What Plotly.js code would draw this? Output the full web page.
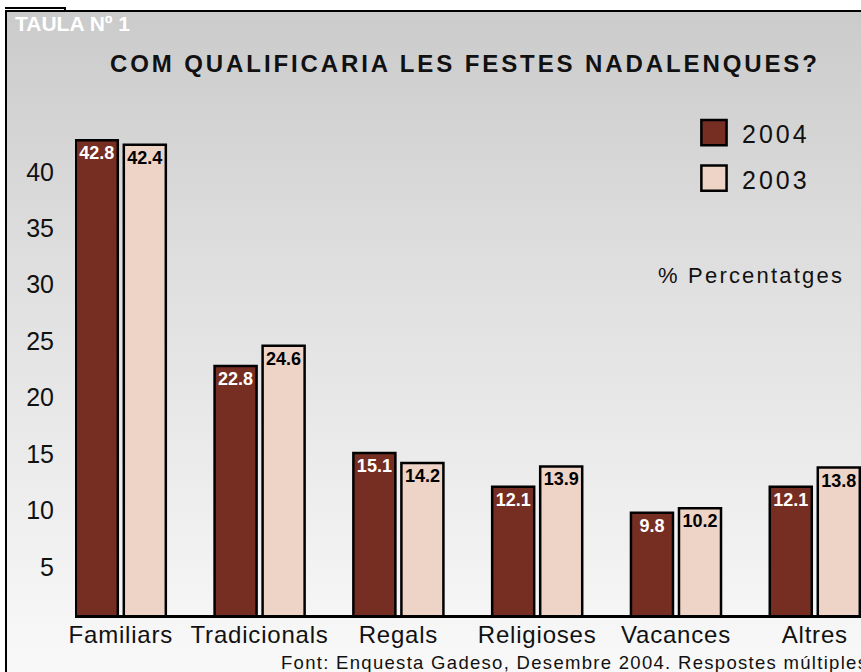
<!DOCTYPE html>
<html>
<head>
<meta charset="utf-8">
<script src="https://cdn.plot.ly/plotly-3.0.1.min.js"></script>
<style>
  html, body { margin: 0; padding: 0; background: #ffffff; overflow: hidden; }
  #frame { position: absolute; left: 5px; top: 10px; width: 900px; height: 700px;
           border-left: 2px solid #000; border-top: 2px solid #000;
           background: linear-gradient(to bottom, #cbcbcb 0%, #dedede 35%, #f8f8f8 92%); }
  #tab { position: absolute; left: 5px; top: 7px; width: 61px; height: 2px; background: #000; }
  #tabv { position: absolute; left: 64px; top: 7px; width: 2px; height: 4px; background: #000; }
  #chart { position: absolute; left: 0; top: 0; width: 861px; height: 672px; }
  .gtitle { letter-spacing: 2.9px; }
  .xtick text { letter-spacing: 0.8px; }
  .legendtext { letter-spacing: 3px; }
  .legendpoints path { transform: translate(20px, -1px) scale(2.1); stroke-width: 1.2px !important; }
</style>
</head>
<body>
<div id="frame"></div>
<div id="tab"></div>
<div id="tabv"></div>
<div id="chart"></div>
<script>
const categories = ["Familiars", "Tradicionals", "Regals", "Religioses", "Vacances", "Altres"];
const values2004 = [42.8, 22.8, 15.1, 12.1, 9.8, 12.1];
const values2003 = [42.4, 24.6, 14.2, 13.9, 10.2, 13.8];
const seriesNames = ["2004", "2003"];
const yTickValues = [5, 10, 15, 20, 25, 30, 35, 40];
const titleText = "COM QUALIFICARIA LES FESTES NADALENQUES?";
const tableLabel = "TAULA Nº 1";
const unitLabel = "% Percentatges";
const sourceText = "Font: Enquesta Gadeso, Desembre 2004. Respostes múltiples";

const FONT = "Liberation Sans, Arial, Helvetica, sans-serif";
const DARK = "#762e23";
const LIGHT = "#eed3c7";

function spaced(txt, px) {
  return '<span style="letter-spacing:' + px + 'px">' + txt + '</span>';
}

const traces = [
  {
    type: "bar", name: seriesNames[0], x: categories, y: values2004,
    legendgroup: "a",
    marker: { color: DARK, line: { color: "#000", width: 2.5 } },
    texttemplate: "%{y:.1f}", textposition: "inside", insidetextanchor: "end",
    constraintext: "none", textangle: 0,
    textfont: { family: FONT, size: 18, weight: "bold", color: "#ffffff" },
    hoverinfo: "x+y"
  },
  {
    type: "bar", name: seriesNames[1], x: categories, y: values2003,
    legendgroup: "b",
    marker: { color: LIGHT, line: { color: "#000", width: 2.5 } },
    texttemplate: "%{y:.1f}", textposition: "inside", insidetextanchor: "end",
    constraintext: "none", textangle: 0,
    textfont: { family: FONT, size: 18, weight: "bold", color: "#000000" },
    hoverinfo: "x+y"
  }
];

const layout = {
  width: 861, height: 672,
  margin: { l: 75, r: 0, t: 100, b: 57 },
  paper_bgcolor: "rgba(0,0,0,0)",
  plot_bgcolor: "rgba(0,0,0,0)",
  font: { family: FONT, color: "#111" },
  barmode: "group", bargap: 0.308, bargroupgap: 0.125,
  title: {
    text: titleText, xref: "container", yref: "container",
    x: 0.54, xanchor: "center", y: 0.905, yanchor: "middle",
    font: { family: FONT, size: 24, weight: "bold", color: "#111" }
  },
  xaxis: {
    type: "category", range: [-0.33, 5.333], fixedrange: true,
    showline: true, linecolor: "#000", linewidth: 2.5,
    ticks: "", showgrid: false, zeroline: false,
    tickfont: { family: FONT, size: 24, color: "#111" },
    ticklabelstandoff: -3
  },
  yaxis: {
    range: [0.74, 46.36], fixedrange: true,
    tickvals: yTickValues, ticktext: yTickValues.map(String),
    showline: false, showgrid: false, zeroline: false, ticks: "",
    tickfont: { family: FONT, size: 25, color: "#111" },
    ticklabelstandoff: 20
  },
  showlegend: true,
  legend: {
    x: 0.7875, xanchor: "left", y: 0.979, yanchor: "top",
    bgcolor: "rgba(0,0,0,0)", borderwidth: 0,
    font: { family: FONT, size: 25, color: "#111" },
    itemwidth: 38, tracegroupgap: 10, traceorder: "grouped"
  },
  annotations: [
    { text: tableLabel, xref: "paper", yref: "paper", x: -0.079, y: 1.1495,
      xanchor: "left", yanchor: "middle", showarrow: false,
      font: { family: FONT, size: 21, weight: "bold", color: "#ffffff" } },
    { text: spaced(unitLabel, 2.2), xref: "paper", yref: "paper", x: 0.739, y: 0.66,
      xanchor: "left", yanchor: "middle", showarrow: false,
      font: { family: FONT, size: 22, color: "#111" } },
    { text: spaced(sourceText, 1.3), xref: "paper", yref: "paper", x: 0.2595, y: -0.0913,
      xanchor: "left", yanchor: "middle", showarrow: false,
      font: { family: FONT, size: 18.5, color: "#111" } }
  ]
};

Plotly.newPlot("chart", traces, layout, { displayModeBar: false, staticPlot: true });
</script>
</body>
</html>
